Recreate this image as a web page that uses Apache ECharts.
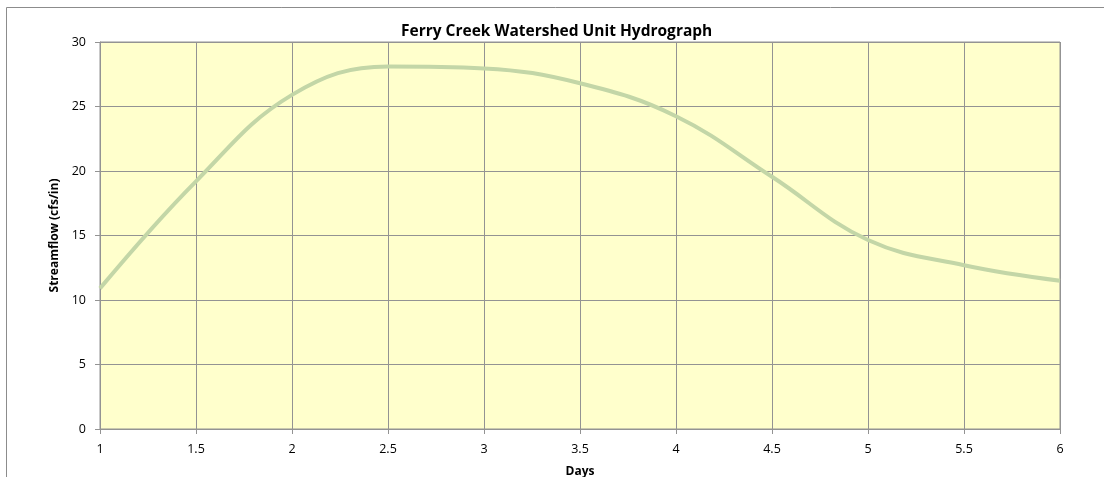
<!DOCTYPE html>
<html>
<head>
<meta charset="utf-8">
<script src="https://cdn.jsdelivr.net/npm/echarts@6/dist/echarts.min.js"></script>
<style>
  html, body { margin: 0; padding: 0; background: #ffffff; }
  #chart { width: 1104px; height: 477px; }
</style>
</head>
<body>
<div id="chart"></div>
<script>
// Unit hydrograph ordinates (days, cfs per inch of runoff)
const days = [1, 1.5, 2, 2.5, 3, 3.5, 4, 4.5, 5, 5.5, 6];
const streamflow = [10.9, 19.2, 25.9, 28.1, 27.95, 26.8, 24.25, 19.55, 14.65, 12.7, 11.5];
const xTicks = [1, 1.5, 2, 2.5, 3, 3.5, 4, 4.5, 5, 5.5, 6];
const yTicks = [0, 5, 10, 15, 20, 25, 30];

const FONT = 'Open Sans';
const GRID_COLOR = '#939393';

const chart = echarts.init(document.getElementById('chart'), null, { renderer: 'canvas' });

chart.setOption({
  animation: false,
  backgroundColor: '#ffffff',
  title: {
    text: 'Ferry Creek Watershed Unit Hydrograph',
    left: 401,
    top: 24,
    padding: 0,
    textStyle: { fontFamily: FONT, fontWeight: 'bold', fontSize: 15.5, color: '#000' }
  },
  graphic: [{
    type: 'rect',
    shape: { x: 6.5, y: 7.5, width: 1200, height: 600 },
    style: { fill: 'none', stroke: '#8c8c8c', lineWidth: 1 },
    silent: true
  }],
  grid: {
    left: 100, right: 44, top: 42, bottom: 48,
    outerBoundsMode: 'none',
    containLabel: false,
    show: true,
    backgroundColor: '#ffffcc',
    borderColor: GRID_COLOR,
    borderWidth: 1
  },
  xAxis: {
    type: 'value',
    min: xTicks[0],
    max: xTicks[xTicks.length - 1],
    interval: 0.5,
    name: 'Days',
    nameLocation: 'middle',
    nameGap: 37,
    nameTextStyle: { fontFamily: FONT, fontWeight: 'bold', fontSize: 12, color: '#000' },
    axisLine: { show: true, lineStyle: { color: GRID_COLOR } },
    axisTick: { show: true, length: 5, lineStyle: { color: GRID_COLOR } },
    axisLabel: {
      fontFamily: FONT, fontSize: 12.5, color: '#000', margin: 14,
      formatter: v => String(v)
    },
    splitLine: { show: true, lineStyle: { color: GRID_COLOR, width: 1 } }
  },
  yAxis: {
    type: 'value',
    min: yTicks[0],
    max: yTicks[yTicks.length - 1],
    interval: 5,
    name: 'Streamflow (cfs/in)',
    nameLocation: 'middle',
    nameGap: 34,
    nameTextStyle: { fontFamily: FONT, fontWeight: 'bold', fontSize: 12, color: '#000' },
    axisLine: { show: true, lineStyle: { color: GRID_COLOR } },
    axisTick: { show: true, length: 5, lineStyle: { color: GRID_COLOR } },
    axisLabel: { fontFamily: FONT, fontSize: 12.5, color: '#000', margin: 14 },
    splitLine: { show: true, lineStyle: { color: GRID_COLOR, width: 1 } }
  },
  series: [{
    type: 'line',
    data: days.map((d, i) => [d, streamflow[i]]),
    smooth: 0.4,
    showSymbol: false,
    lineStyle: { color: '#c3d6a7', width: 4 },
    silent: true
  }]
});
</script>
</body>
</html>
